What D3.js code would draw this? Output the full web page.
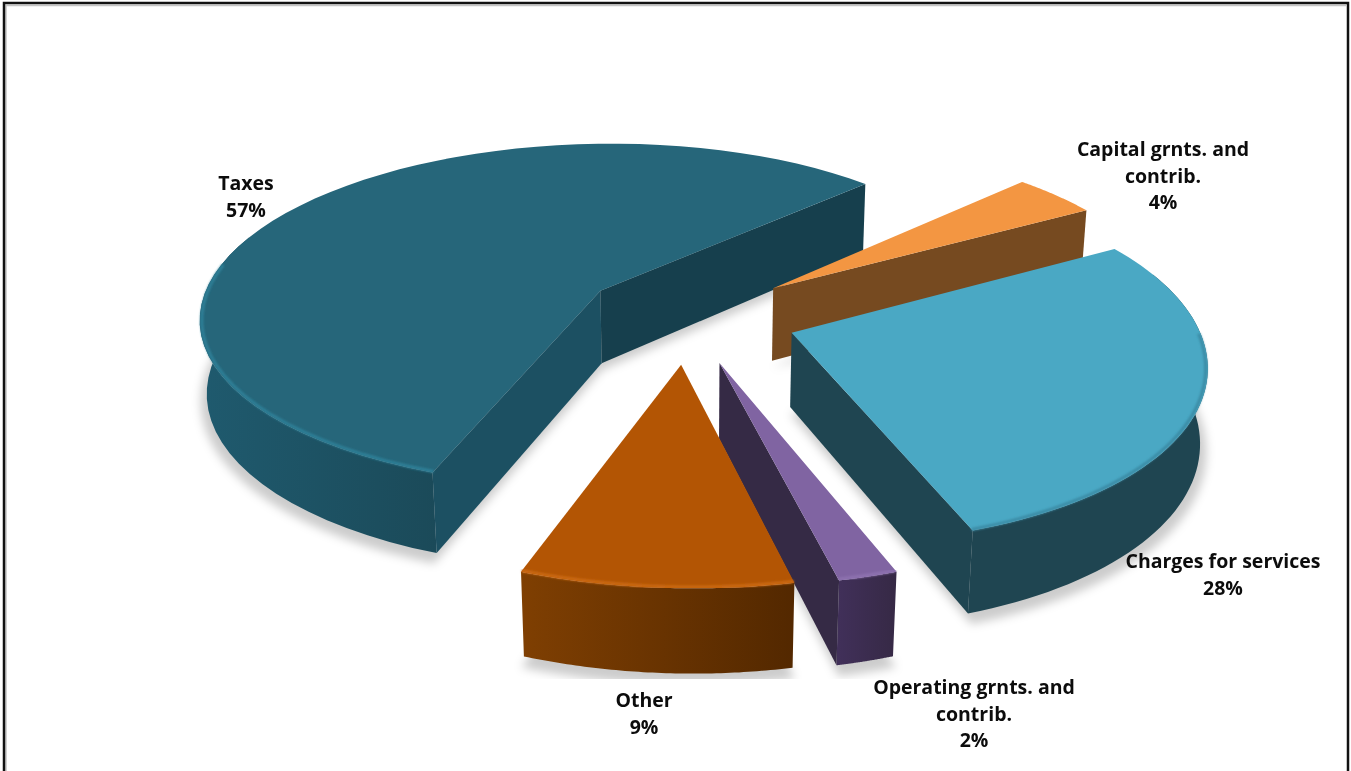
<!DOCTYPE html>
<html>
<head>
<meta charset="utf-8">
<script src="https://cdn.jsdelivr.net/npm/d3@7/dist/d3.min.js"></script>
<style>
  html, body { margin: 0; padding: 0; background: #fff; overflow: hidden; }
  svg { display: block; }
  text { font-family: "Open Sans", sans-serif; font-weight: 700; font-size: 19.5px; fill: #0c0c0c; text-anchor: middle; }
</style>
</head>
<body>
<svg id="chart" width="1351" height="771"></svg>
<script>
// Revenue shares, clockwise from the Taxes slice
const categories = ["Taxes", "Capital grnts. and contrib.", "Charges for services", "Operating grnts. and contrib.", "Other"];
const shares = [57, 4, 28, 2, 9];
const labelLines = [["Taxes"], ["Capital grnts. and", "contrib."], ["Charges for services"], ["Operating grnts. and", "contrib."], ["Other"]];

// Slice finishes
const topColors = ["#26667a", "#f39642", "#4aa8c4", "#8064a2", "#b35504"];
const rimColors = ["#2f8098", "#f39642", "#3b8ba5", "#8e72b0", "#cc6a16"];
const wallLeft = ["#1f5a6e", "#764a20", "#1f4551", "#41305a", "#7f3f02"];
const wallRight = ["#1b4a59", "#764a20", "#1f4551", "#362945", "#532800"];
const cutColors = ["#1c5062", "#764a20", "#1f4551", "#352a45", "#532800"];
const backCutColors = ["#163f4d", "#764a20", "#1f4551", "#352a45", "#532800"];

// Camera and pie geometry
const view = { cx: 689, cy: 316, tilt: 25.8 * Math.PI / 180, dist: 2500, nearSkew: 4.5e-5 };
const pieGeom = { radius: 403, depth: 83, explode: 108, start: 200.5 * Math.PI / 180 };
const labelSpots = [[246, 182], [1163, 148], [1223, 560], [974, 686], [644, 699]];

const svg = d3.select("#chart");
const defs = svg.append("defs");
defs.append("filter").attr("id", "soft").attr("x", "-20%").attr("y", "-20%").attr("width", "140%").attr("height", "140%")
  .append("feGaussianBlur").attr("stdDeviation", 5);
defs.append("filter").attr("id", "rimSoft").attr("x", "-5%").attr("y", "-5%").attr("width", "110%").attr("height", "110%")
  .append("feGaussianBlur").attr("stdDeviation", 1.1);
defs.append("clipPath").attr("id", "floor").append("rect").attr("width", 1351).attr("height", 679);

// Ground-plane point (u right, v away, h up) to screen coordinates.
// The camera sits slightly off axis, which drifts the near side to the right.
function project(u, v, h) {
  const sinT = Math.sin(view.tilt), cosT = Math.cos(view.tilt);
  const y = v * sinT + h * cosT;
  const z = v * cosT - h * sinT;
  const s = view.dist / (view.dist + z);
  const drift = v < 0 ? view.nearSkew * v * v : 0;
  return [view.cx + (u + drift) * s, view.cy - y * s];
}

const line = d3.line();
const arcs = d3.pie().sort(null).startAngle(pieGeom.start).endAngle(pieGeom.start + 2 * Math.PI)(shares);
const camera = [0, -view.dist * Math.cos(view.tilt)];
const wrap = a => ((a % (2 * Math.PI)) + 2 * Math.PI) % (2 * Math.PI);

const slices = arcs.map((d, i) => {
  const mid = (d.startAngle + d.endAngle) / 2;
  const apex = [pieGeom.explode * Math.sin(mid), pieGeom.explode * Math.cos(mid)];
  const rimAt = (a, r, h) => project(apex[0] + r * Math.sin(a), apex[1] + r * Math.cos(a), h);
  const steps = d3.range(0, 61).map(k => d.startAngle + (d.endAngle - d.startAngle) * k / 60);
  return { i, d, apex, rimAt, steps };
});

// Soft contact shadow under each slice
const shadowLayer = svg.append("g").attr("clip-path", "url(#floor)").append("g")
  .attr("filter", "url(#soft)").attr("transform", "translate(0,7)");
slices.forEach(s => {
  const pts = [project(s.apex[0], s.apex[1], -pieGeom.depth)]
    .concat(s.steps.map(a => s.rimAt(a, pieGeom.radius + 6, -pieGeom.depth)));
  shadowLayer.append("path").attr("d", line(pts) + "Z").attr("fill", "#000").attr("opacity", 0.2);
});

slices.forEach(s => {
  const g = svg.append("g").attr("class", "slice");
  const H = pieGeom.depth, R = pieGeom.radius, i = s.i;

  // Outer wall with its side-to-side shading
  const grad = defs.append("linearGradient").attr("id", "wall" + i);
  grad.append("stop").attr("offset", 0).attr("stop-color", wallLeft[i]);
  grad.append("stop").attr("offset", 1).attr("stop-color", wallRight[i]);
  const front = s.steps.filter(a => { const n = wrap(a); return n > 1.2 && n < 5.1; });
  if (front.length > 1) {
    const wall = front.map(a => s.rimAt(a, R, 0)).concat(front.slice().reverse().map(a => s.rimAt(a, R, -H)));
    g.append("path").attr("d", line(wall) + "Z").attr("fill", `url(#wall${i})`);
  }

  // Radial cut faces, only where the camera can see them
  [[s.d.startAngle, -1, cutColors[i]], [s.d.endAngle, 1, backCutColors[i]]].forEach(([a, dir, color]) => {
    const nu = Math.sin(a + dir * Math.PI / 2), nv = Math.cos(a + dir * Math.PI / 2);
    const facing = nu * (camera[0] - s.apex[0]) + nv * (camera[1] - s.apex[1]);
    if (facing <= 0) return;
    const face = [
      project(s.apex[0], s.apex[1], 0), s.rimAt(a, R, 0),
      s.rimAt(a, R, -H), project(s.apex[0], s.apex[1], -H)
    ];
    g.append("path").attr("d", line(face) + "Z").attr("fill", color);
  });

  // Top face and bevelled rim
  const top = [project(s.apex[0], s.apex[1], 0)].concat(s.steps.map(a => s.rimAt(a, R, 0)));
  g.append("path").attr("d", line(top) + "Z").attr("fill", topColors[i]);
  const rimSteps = s.steps.filter(a => { const n = wrap(a); return n > Math.PI / 2 && n < 4.9; });
  if (rimSteps.length > 1) {
    g.append("path").attr("d", line(rimSteps.map(a => s.rimAt(a, R - 2, 0))))
      .attr("fill", "none").attr("stroke", rimColors[i]).attr("stroke-width", 3)
      .attr("filter", "url(#rimSoft)");
  }
});

// Data labels
categories.forEach((c, i) => {
  const lines = labelLines[i].concat([shares[i] + "%"]);
  const t = svg.append("text").attr("x", labelSpots[i][0]).attr("y", labelSpots[i][1]).attr("dominant-baseline", "central");
  lines.forEach((l, k) => t.append("tspan").attr("x", labelSpots[i][0]).attr("dy", k ? 26.5 : 0).text(l));
});

// Outer picture frame with its faint inner edge
svg.append("path").attr("d", "M6 771V5.5H1346").attr("fill", "none").attr("stroke", "#c4c4c4").attr("stroke-width", 1.5);
svg.append("path").attr("d", "M4 771V3H1348V771").attr("fill", "none").attr("stroke", "#111").attr("stroke-width", 2.5);
</script>
</body>
</html>
